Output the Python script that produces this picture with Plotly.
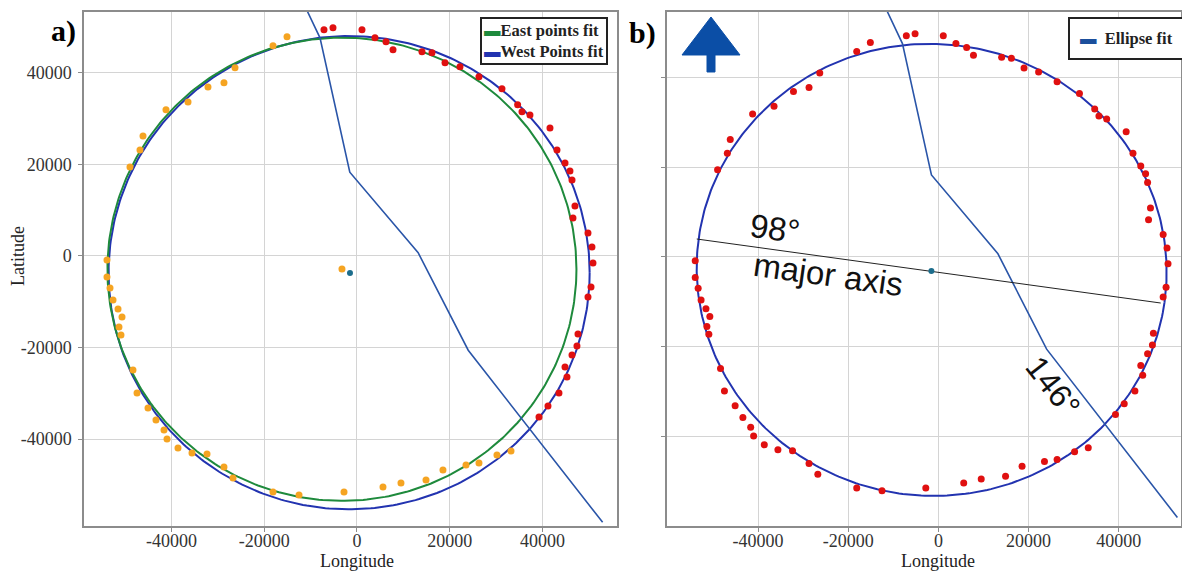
import numpy as np
import plotly.graph_objects as go

# ---------------- data ----------------
west_lon = [-18120, -15100, -26320, -28700, -32150, -36460, -41210, -46170, -46820, -48980,
            -53940, -53940, -53290, -52640, -51560, -50700, -51350, -50920, -48330, -47460,
            -45090, -43370, -41640, -40990, -38620, -35600, -32360, -28700, -26750, -18120,
            -12510, -2800, 5610, 9490, 14890, 18550, 23520, 26320, 30200, 33230]
west_lat = [45900, 47870, 41100, 37820, 36940, 33660, 31920, 26230, 23170, 19460,
            -870, -4590, -7000, -9620, -11590, -13330, -15520, -17270, -24920, -29950,
            -33230, -35850, -38040, -40000, -41970, -43060, -43280, -46120, -48530, -51590,
            -52250, -51590, -50500, -49620, -48970, -46780, -45690, -45250, -43500, -42630]

east_lon = [-7120, -5180, 1080, 3880, 6260, 7770, 14020, 16180, 18990, 22220,
            26320, 31280, 34660, 35600, 37320, 41640, 43150, 44880, 45950, 46390,
            47030, 46600, 49840, 50700, 50920, 50490, 49840, 47680, 47460, 46390,
            44880, 45310, 43580, 41210, 39270]
east_lat = [49400, 49840, 49400, 47650, 46780, 45030, 44590, 44380, 42190, 41320,
            39130, 36510, 33010, 31480, 30820, 27980, 23170, 20330, 18580, 16610,
            10930, 8310, 5030, 1970, -1530, -6780, -8960, -17050, -19670, -21640,
            -24260, -26450, -29950, -32790, -35200]

fault_lon = [-11900, -10570, -7980, -1550, 13200, 24000, 53000]
fault_lat = [56000, 53100, 47650, 18300, 700, -20600, -58200]

# fit parameters: centre x, centre y, semi-axis a, semi-axis b, rotation (deg)
east_fit = [-3250, -2900, 50600, 50600, 0]
west_fit = [-1700, -3650, 51900, 51700, 0]
ellipse_fit = [-1500, -2900, 52150, 50450, -8]

east_centre = [-3240, -2840]
west_centre = [-1510, -3700]
ellipse_centre = [-1560, -3130]

major_lon = [-53600, 49300]
major_lat = [4000, -10300]

tick_vals = [-40000, -20000, 0, 20000, 40000]
tick_text = ["-40000", "-20000", "0", "20000", "40000"]

W, H = 1182, 571
SERIF = "Liberation Serif, Times New Roman, serif"
SANS = "Liberation Sans, Arial, sans-serif"

RED = "#e01010"
ORANGE = "#f5a422"
GREEN = "#1e8a3c"
BLUE = "#2233b0"
FAULT = "#2a55a8"
DOT = "#1c6d8c"


def ellipse(p):
    cx, cy, a, b, ang = p
    t = np.linspace(0, 2 * np.pi, 400)
    r = np.deg2rad(ang)
    x = cx + a * np.cos(t) * np.cos(r) - b * np.sin(t) * np.sin(r)
    y = cy + a * np.cos(t) * np.sin(r) + b * np.sin(t) * np.cos(r)
    return x, y


fig = go.Figure()

# ---------- panel a ----------
ex, ey = ellipse(east_fit)
wx, wy = ellipse(west_fit)
fig.add_trace(go.Scatter(x=wx, y=wy, mode="lines", line=dict(color=BLUE, width=2),
                         name="West Points fit", showlegend=False, xaxis="x", yaxis="y"))
fig.add_trace(go.Scatter(x=ex, y=ey, mode="lines", line=dict(color=GREEN, width=2),
                         name="East points fit", showlegend=False, xaxis="x", yaxis="y"))
fig.add_trace(go.Scatter(x=fault_lon, y=fault_lat, mode="lines", line=dict(color=FAULT, width=1.6),
                         name="fault", showlegend=False, xaxis="x", yaxis="y"))
fig.add_trace(go.Scatter(x=west_lon, y=west_lat, mode="markers",
                         marker=dict(color=ORANGE, size=7), name="west points",
                         showlegend=False, xaxis="x", yaxis="y"))
fig.add_trace(go.Scatter(x=east_lon, y=east_lat, mode="markers",
                         marker=dict(color=RED, size=7), name="east points",
                         showlegend=False, xaxis="x", yaxis="y"))
fig.add_trace(go.Scatter(x=[east_centre[0]], y=[east_centre[1]], mode="markers",
                         marker=dict(color=ORANGE, size=7), showlegend=False, xaxis="x", yaxis="y"))
fig.add_trace(go.Scatter(x=[west_centre[0]], y=[west_centre[1]], mode="markers",
                         marker=dict(color=DOT, size=6), showlegend=False, xaxis="x", yaxis="y"))

# ---------- panel b ----------
bx, by = ellipse(ellipse_fit)
fig.add_trace(go.Scatter(x=bx, y=by, mode="lines", line=dict(color=BLUE, width=2),
                         name="Ellipse fit", showlegend=False, xaxis="x2", yaxis="y2"))
fig.add_trace(go.Scatter(x=fault_lon, y=fault_lat, mode="lines", line=dict(color=FAULT, width=1.6),
                         showlegend=False, xaxis="x2", yaxis="y2"))
fig.add_trace(go.Scatter(x=major_lon, y=major_lat, mode="lines", line=dict(color="#222222", width=1),
                         showlegend=False, xaxis="x2", yaxis="y2"))
fig.add_trace(go.Scatter(x=west_lon + east_lon, y=west_lat + east_lat, mode="markers",
                         marker=dict(color=RED, size=7), showlegend=False, xaxis="x2", yaxis="y2"))
fig.add_trace(go.Scatter(x=[ellipse_centre[0]], y=[ellipse_centre[1]], mode="markers",
                         marker=dict(color=DOT, size=6), showlegend=False, xaxis="x2", yaxis="y2"))

ax_common = dict(showgrid=True, gridcolor="#d4d4d4", gridwidth=1, zeroline=False,
                 showline=True, mirror=True, linecolor="#8c8c8c", linewidth=1.5,
                 ticks="outside", ticklen=4, tickcolor="#8c8c8c",
                 tickvals=tick_vals, ticktext=tick_text,
                 tickfont=dict(family=SERIF, size=18, color="#333333"))

ydom = [1 - 526 / H, 1 - 12 / H]
fig.update_layout(
    width=W, height=H,
    margin=dict(l=0, r=0, t=0, b=0),
    paper_bgcolor="white", plot_bgcolor="white",
    showlegend=False,
    xaxis=dict(domain=[84 / W, 617 / W], range=[-58900, 56100], anchor="y",
               ticklabelstandoff=-6, **ax_common),
    yaxis=dict(domain=ydom, range=[-59000, 53300], anchor="x", ticklabelstandoff=3, **ax_common),
    xaxis2=dict(domain=[667 / W, 1181 / W], range=[-60200, 53800], anchor="y2",
                ticklabelstandoff=-6, **ax_common),
    yaxis2=dict(domain=ydom, range=[-60100, 54700], anchor="x2", showticklabels=False, **ax_common),
)

ann = []


def lab(text, px, py, size, family=SERIF, angle=0, color="#222", bold=False):
    return dict(text=f"<b>{text}</b>" if bold else text, x=px / W, y=1 - py / H,
                xref="paper", yref="paper", xanchor="center", yanchor="middle",
                textangle=angle, showarrow=False, font=dict(family=family, size=size, color=color))


ann.append(lab("a)", 63, 31, 30, color="black", bold=True))
ann.append(lab("b)", 642, 33, 30, color="black", bold=True))
ann.append(lab("Latitude", 18, 256, 18, angle=-90))
ann.append(lab("Longitude", 357, 561, 18))
ann.append(lab("Longitude", 938, 561, 18))
# legends
ann.append(dict(text=f"<span style='color:{GREEN}'>▬</span><b>East points fit</b><br>"
                     f"<span style='color:{BLUE}'>▬</span><b>West Points fit</b>",
                x=480 / W, y=1 - 17 / H, xref="paper", yref="paper", xanchor="left", yanchor="top",
                align="left", showarrow=False, bgcolor="white", bordercolor="#222", borderwidth=2,
                borderpad=2, font=dict(family=SERIF, size=16.5, color="#222")))
ann.append(dict(text=f"<span style='color:#1b4f9c'>▬</span>  <b>Ellipse fit</b>",
                x=1068 / W, y=1 - 17 / H, xref="paper", yref="paper", xanchor="left", yanchor="top",
                align="left", showarrow=False, bgcolor="white", bordercolor="#222", borderwidth=2,
                borderpad=10, font=dict(family=SERIF, size=16.5, color="#222")))
# angle labels
ann.append(dict(text="98°", x=-36200, y=6300, xref="x2", yref="y2", textangle=8,
                xanchor="center", yanchor="middle",
                showarrow=False, font=dict(family=SANS, size=33, color="#111")))
ann.append(dict(text="major axis", x=-24400, y=-4000, xref="x2", yref="y2", textangle=8,
                xanchor="center", yanchor="middle",
                showarrow=False, font=dict(family=SANS, size=33, color="#111")))
ann.append(dict(text="146°", x=25500, y=-29000, xref="x2", yref="y2", textangle=52,
                xanchor="center", yanchor="middle",
                showarrow=False, font=dict(family=SANS, size=32, color="#111")))
fig.update_layout(annotations=ann)


# north arrow (decoration, in paper coordinates)
def P(x, y):
    return f"{x / W:.5f},{1 - y / H:.5f}"


arrow_path = ("M " + P(711, 17) + " L " + P(740, 55) + " L " + P(715, 55) + " L " + P(715, 72)
              + " L " + P(707, 72) + " L " + P(707, 55) + " L " + P(682, 55) + " Z")
fig.add_shape(type="path", path=arrow_path, xref="paper", yref="paper",
              fillcolor="#0b4ea6", line=dict(color="#0b4ea6", width=1))

fig.write_html("out.html", config={"displayModeBar": False},
               post_script="document.body.style.margin='0px';document.body.style.overflow='hidden';")
